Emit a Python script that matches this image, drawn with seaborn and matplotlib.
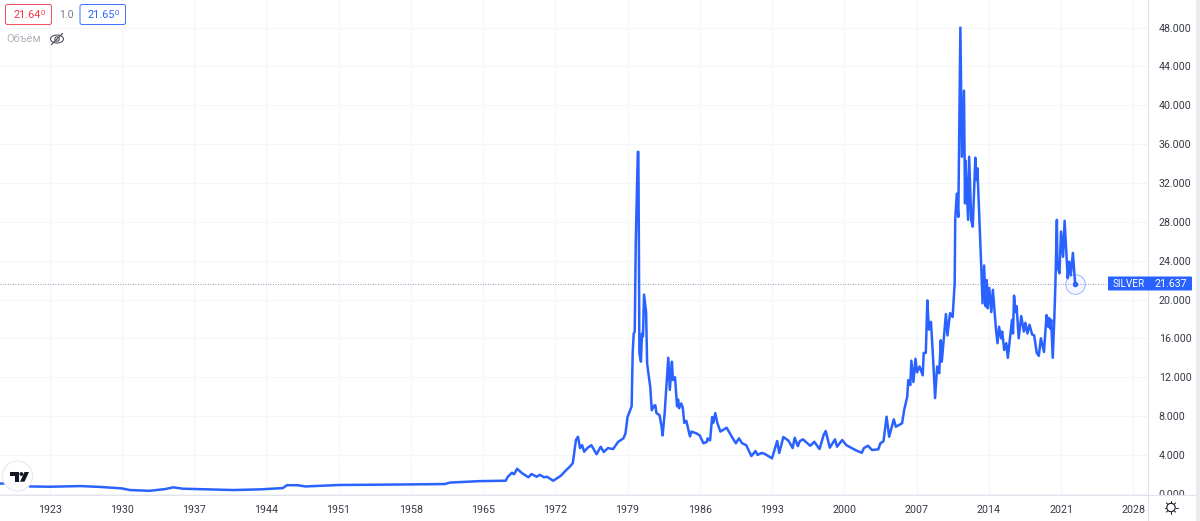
import matplotlib
matplotlib.use("Agg")
import matplotlib.pyplot as plt
import matplotlib.patches as patches
from matplotlib.transforms import Bbox, blended_transform_factory
import pandas as pd
import seaborn as sns

# silver price
years = [
    1918.2, 1920.6, 1921.1, 1923.0, 1926.0, 1927.9, 1930.0, 1930.8, 1932.7, 1934.2, 1935.0, 1935.9,
    1940.8, 1943.4, 1945.6, 1946.0, 1947.0, 1947.8, 1951.0, 1957.0, 1961.3, 1961.8, 1964.7, 1967.2,
    1967.4, 1967.8, 1968.0, 1968.3, 1968.8, 1969.4, 1969.7, 1970.2, 1970.5, 1970.9, 1971.2, 1971.8,
    1972.5, 1973.0, 1973.4, 1973.7, 1974.0, 1974.2, 1974.4, 1974.6, 1974.8, 1975.1, 1975.5, 1976.0,
    1976.4, 1976.7, 1977.1, 1977.6, 1978.1, 1978.6, 1978.8, 1979.0, 1979.4, 1979.5, 1979.6, 1979.7,
    1979.8, 1980.0, 1980.05, 1980.1, 1980.15, 1980.3, 1980.4, 1980.5, 1980.6, 1980.8, 1980.9, 1981.2,
    1981.35, 1981.6, 1981.7, 1981.8, 1982.1, 1982.3, 1982.4, 1982.6, 1982.7, 1982.95, 1983.1, 1983.3,
    1983.4, 1983.6, 1983.8, 1983.9, 1984.0, 1984.2, 1984.35, 1984.5, 1984.7, 1984.9, 1985.05, 1985.2,
    1985.7, 1986.0, 1986.35, 1986.7, 1986.75, 1987.0, 1987.2, 1987.3, 1987.5, 1987.7, 1988.0, 1988.6,
    1989.2, 1989.5, 1989.8, 1990.1, 1990.5, 1991.0, 1991.4, 1991.6, 1992.0, 1992.3, 1993.0, 1993.5,
    1993.7, 1994.1, 1994.6, 1995.0, 1995.2, 1995.5, 1995.7, 1996.0, 1996.7, 1997.1, 1997.6, 1998.0,
    1998.2, 1998.6, 1999.1, 1999.3, 1999.8, 2000.2, 2001.2, 2001.7, 2001.9, 2002.3, 2002.7, 2003.3,
    2003.5, 2003.8, 2004.1, 2004.35, 2004.8, 2005.0, 2005.6, 2005.8, 2006.1, 2006.2, 2006.4, 2006.5,
    2006.7, 2006.9, 2007.05, 2007.3, 2007.6, 2007.7, 2007.9, 2008.05, 2008.2, 2008.4, 2008.6, 2008.8,
    2009.0, 2009.2, 2009.35, 2009.45, 2009.85, 2010.0, 2010.25, 2010.5, 2010.7, 2010.75, 2010.9, 2011.05,
    2011.25, 2011.4, 2011.6, 2011.7, 2011.75, 2012.0, 2012.1, 2012.3, 2012.45, 2012.7, 2012.8, 2012.9,
    2013.1, 2013.25, 2013.4, 2013.55, 2013.7, 2013.8, 2013.9, 2014.05, 2014.25, 2014.4, 2014.7, 2014.85,
    2015.0, 2015.2, 2015.3, 2015.5, 2015.7, 2015.85, 2016.25, 2016.35, 2016.45, 2016.6, 2016.7, 2016.9,
    2017.15, 2017.4, 2017.55, 2017.75, 2017.95, 2018.2, 2018.4, 2018.65, 2018.85, 2019.05, 2019.35, 2019.6,
    2019.75, 2019.85, 2019.95, 2020.05, 2020.2, 2020.35, 2020.45, 2020.6, 2020.65, 2020.85, 2021.0, 2021.2,
    2021.35, 2021.65, 2021.8, 2021.95, 2022.15, 2022.37,
]
prices = [
    1.05, 1.05, 0.75, 0.72, 0.79, 0.70, 0.55, 0.38, 0.30, 0.48, 0.66, 0.52,
    0.38, 0.45, 0.58, 0.88, 0.88, 0.75, 0.90, 0.95, 1.00, 1.15, 1.30, 1.34,
    1.75, 2.16, 2.00, 2.57, 2.10, 1.70, 2.03, 1.75, 1.95, 1.70, 1.75, 1.34,
    1.82, 2.37, 2.78, 3.15, 5.53, 5.87, 4.70, 5.00, 4.33, 4.70, 5.00, 4.07,
    4.84, 4.30, 4.70, 4.60, 5.35, 5.70, 6.20, 7.90, 9.00, 14.5, 16.5, 16.7,
    26.0, 35.2, 35.2, 26.0, 14.5, 13.6, 16.5, 16.2, 20.5, 18.7, 13.4, 11.0,
    8.60, 9.10, 9.10, 8.30, 8.10, 6.90, 6.00, 8.30, 10.0, 14.0, 10.7, 13.6,
    11.7, 12.0, 9.00, 9.70, 8.80, 9.30, 8.90, 7.30, 7.50, 6.60, 5.90, 6.40,
    6.20, 6.00, 5.20, 5.35, 5.70, 5.50, 7.90, 7.30, 8.30, 7.30, 6.40, 6.80,
    5.70, 5.20, 5.70, 5.20, 5.00, 3.88, 4.40, 4.00, 4.20, 4.10, 3.65, 5.43,
    4.20, 5.84, 5.46, 4.70, 5.77, 4.90, 5.43, 5.60, 4.94, 5.35, 4.60, 6.04,
    6.46, 4.74, 5.60, 4.84, 5.53, 5.00, 4.43, 4.22, 4.70, 4.94, 4.50, 4.57,
    5.20, 5.40, 7.93, 5.87, 7.66, 6.90, 7.25, 8.60, 10.0, 11.7, 11.2, 13.7,
    11.5, 13.9, 12.5, 13.1, 12.2, 14.5, 14.5, 19.9, 16.9, 17.7, 14.1, 9.85,
    13.1, 12.4, 15.8, 13.6, 18.5, 16.3, 18.6, 18.2, 21.7, 28.2, 30.9, 28.5,
    48.0, 34.7, 41.5, 29.9, 34.3, 28.2, 34.7, 28.2, 27.5, 34.6, 32.3, 33.5,
    28.2, 24.0, 19.6, 23.5, 19.3, 22.0, 19.1, 21.2, 18.7, 21.0, 16.9, 15.5,
    17.2, 16.0, 16.7, 14.8, 15.5, 14.0, 17.9, 16.5, 20.4, 18.7, 19.3, 16.0,
    18.3, 16.7, 17.6, 16.5, 17.4, 16.4, 16.3, 14.5, 14.2, 16.0, 14.6, 18.4,
    17.2, 18.1, 17.0, 17.9, 14.0, 18.0, 21.3, 28.2, 23.4, 22.7, 27.0, 24.4,
    28.1, 22.2, 23.9, 22.5, 24.8, 21.637,
]
year_ticks = [1923, 1930, 1937, 1944, 1951, 1958, 1965, 1972, 1979, 1986, 1993, 2000, 2007, 2014, 2021, 2028]
price_ticks = [0, 4, 8, 12, 16, 20, 24, 28, 32, 36, 40, 44, 48]

BLUE = "#2962ff"
RED = "#f23645"
TEXT = "#363a45"
GRID = "#f5f6f9"
BORDER = "#e0e3eb"
W, H = 1200, 521

sns.set_style("white")
plt.rcParams["font.family"] = ["Roboto", "DejaVu Sans"]

df = pd.DataFrame({"year": years, "price": prices})

fig = plt.figure(figsize=(W / 100, H / 100), dpi=100, facecolor="white")
ax = fig.add_axes([0, 1 - 495 / H, 1147.7 / W, 495 / H])

sns.lineplot(data=df, x="year", y="price", color=BLUE, linewidth=1.8, sort=False,
             estimator=None, ax=ax, zorder=3)
ax.scatter(years[-1], prices[-1], s=200, facecolor=(0.16, 0.38, 1, 0.05), edgecolor=(0.16, 0.38, 1, 0.45),
           linewidth=0.7, zorder=4)
ax.scatter(years[-1], prices[-1], s=16, color=BLUE, linewidth=0, zorder=5)

# dotted last price line runs past the axis up to the label
trans = blended_transform_factory(fig.transFigure, ax.transData)
ax.plot([0, 1108 / W], [prices[-1], prices[-1]], transform=trans, color="#4a5a90", lw=0.6, ls=(0, (1, 2)),
        alpha=0.8, clip_on=False, zorder=2)

ax.set_xlim(1918.2, 2029.4)
ax.set_ylim(-0.13, 50.84)
ax.set_xticks(year_ticks)
ax.set_xticklabels([str(y) for y in year_ticks])
ax.set_yticks(price_ticks)
ax.set_yticklabels(["%.3f" % p for p in price_ticks])
ax.set_xlabel("")
ax.set_ylabel("")
ax.yaxis.tick_right()
ax.grid(True, color=GRID, linewidth=0.8)
ax.set_axisbelow(True)
ax.tick_params(axis="x", length=0, pad=7, labelsize=7.7, labelcolor=TEXT)
ax.tick_params(axis="y", length=0, pad=8, labelsize=7.7, labelcolor=TEXT)
for side in ["top", "left"]:
    ax.spines[side].set_visible(False)
ax.spines["right"].set_color(BORDER)
ax.spines["bottom"].set_visible(False)

# the 0.000 label gets cut by the time axis line
for lab in ax.get_yticklabels():
    lab.set_clip_on(True)
    lab.set_clip_box(Bbox([[1149, 26], [1196, 521]]))

# everything else is chart chrome, drawn in pixel coordinates
ui = fig.add_axes([0, 0, 1, 1], facecolor="none")
ui.set_xlim(0, W)
ui.set_ylim(H, 0)
ui.axis("off")

ui.plot([0, 1195], [495, 495], color=BORDER, lw=0.8)
ui.plot([1147.7, 1147.7], [495, 521], color=BORDER, lw=0.8)
ui.add_patch(patches.Rectangle((1196, 0), 4, H, facecolor="#eaebef", edgecolor="none"))

# legend boxes top left
for x0, x1, col, txt in [(5.5, 51.5, RED, "21.64"), (80, 125.5, BLUE, "21.65")]:
    ui.add_patch(patches.FancyBboxPatch((x0 + 2, 6.5), x1 - x0 - 4, 16, boxstyle="round,pad=2", facecolor="white",
                                        edgecolor=col, lw=0.7, alpha=0.9, zorder=3))
    ui.text(x1 - 11, 15, txt, color=col, fontsize=7.8, ha="right", va="center", zorder=4)
    ui.text(x1 - 10.7, 13, "0", color=col, fontsize=5.5, ha="left", va="center", zorder=4)
ui.text(66, 14.5, "1.0", color="#787b86", fontsize=7.6, ha="center", va="center")
ui.text(6, 39, "Объём", color="#b2b5be", fontsize=8, ha="left", va="center")

# crossed out eye
ui.add_patch(patches.Ellipse((57, 39), 13, 8, fill=False, edgecolor="#50535e", lw=0.8))
ui.add_patch(patches.Circle((57, 39), 2.2, fill=False, edgecolor="#50535e", lw=0.8))
ui.plot([51.5, 62.5], [44.5, 33.5], color="#50535e", lw=0.9)

# logo
ui.add_patch(patches.Ellipse((17.5, 476), 30, 30, facecolor="white", edgecolor="#e6e8ee", lw=0.8, zorder=5))
ui.add_patch(patches.Polygon([(10, 472), (19, 472), (19, 481.7), (14.5, 481.7), (14.5, 476), (10, 476)],
                             facecolor="#131722", edgecolor="none", zorder=6))
ui.add_patch(patches.Circle((21.4, 474), 1.9, facecolor="#131722", edgecolor="none", zorder=6))
ui.add_patch(patches.Polygon([(24.5, 472), (29, 472), (24.5, 481.7), (20, 481.7)], facecolor="#131722",
                             edgecolor="none", zorder=6))

# last price tag
ui.add_patch(patches.FancyBboxPatch((1109, 277.5), 82, 12, boxstyle="round,pad=1", facecolor=BLUE,
                                    edgecolor="none", zorder=6))
ui.text(1112.5, 283.7, "SILVER", color="white", fontsize=7.2, ha="left", va="center", zorder=7)
ui.text(1187.5, 283.7, "21.637", color="white", fontsize=7.7, ha="right", va="center", zorder=7)

# settings icon under the price scale
ui.add_patch(patches.Circle((1171, 507.5), 4.2, fill=False, edgecolor="#131722", lw=0.8))
for dx, dy in [(0, -6.5), (0, 6.5), (-6.5, 0), (6.5, 0), (-4.6, -4.6), (4.6, -4.6), (-4.6, 4.6), (4.6, 4.6)]:
    ui.plot([1171 + dx * 0.75, 1171 + dx], [507.5 + dy * 0.75, 507.5 + dy], color="#131722", lw=0.7)

fig.savefig("out.png", dpi=100)
